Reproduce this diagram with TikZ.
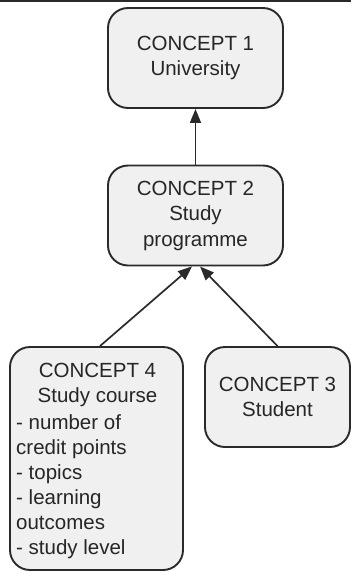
\documentclass[tikz,border=0pt]{standalone}
\usepackage{fontspec}
\setmainfont{Liberation Sans}
\usetikzlibrary{arrows.meta}
\definecolor{boxfill}{HTML}{F0F0F0}
\definecolor{boxline}{HTML}{2A2A2A}
\definecolor{txtcol}{HTML}{262626}
\begin{document}
\begin{tikzpicture}[x=1pt,y=-1pt,
  concept/.style={draw=boxline, fill=boxfill, line width=1.9pt, rounded corners=20pt,
    inner sep=0pt, text=txtcol, font=\fontsize{20.5}{25.5}\selectfont, align=center},
  lbl/.style={text=txtcol, font=\fontsize{20.5}{25}\selectfont, inner sep=0pt},
  link/.style={draw=boxline, line width=1.7pt, -{Triangle[length=14pt,width=11pt]}}]
\useasboundingbox (0,0) rectangle (351,574);
\draw[line width=1.5pt, draw=boxline] (0,0.75) -- (351,0.75);
\node[concept, minimum width=175pt, minimum height=100pt] (c1) at (195.5,58) {CONCEPT 1\\University};
\node[concept, minimum width=175pt, minimum height=100pt] (c2) at (195.5,215.5) {CONCEPT 2\\Study\\programme};
\node[concept, minimum width=145pt, minimum height=100pt] (c3) at (277.5,397) {CONCEPT 3\\Student};
\node[concept, minimum width=173pt, minimum height=223pt] (c4) at (96.5,458.5) {};
\node[lbl, align=center, font=\fontsize{20.5}{25.5}\selectfont] (c4title) at (97.5,385) {CONCEPT 4\\Study course};
\node[lbl, align=left, anchor=north west] (c4list) at (16,414.5) {- number of\\credit points\\- topics\\- learning\\outcomes\\- study level};
\draw[link] (c2) -- (c1);
\draw[link] ([xshift=3.5pt]c4.north) -- ([xshift=-3.5pt]c2.south);
\draw[link] (c3.north) -- ([xshift=4.5pt]c2.south);
\end{tikzpicture}
\end{document}
